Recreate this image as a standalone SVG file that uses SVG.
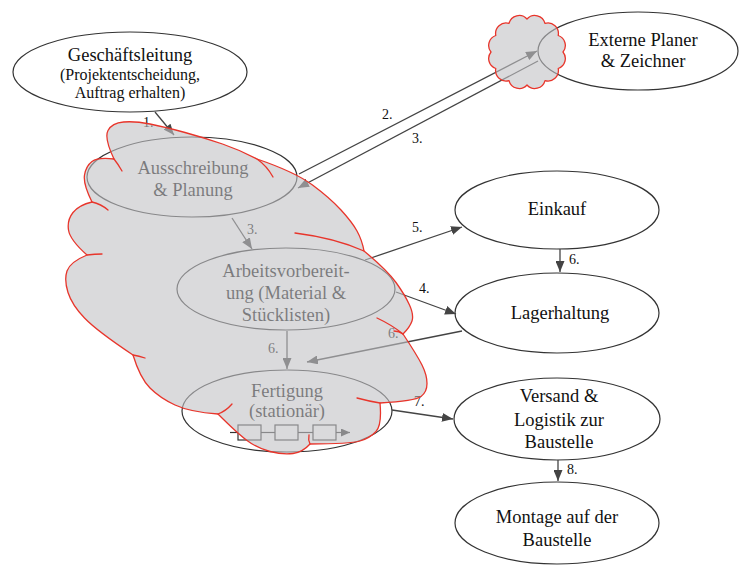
<svg xmlns="http://www.w3.org/2000/svg" width="739" height="566" viewBox="0 0 739 566" font-family="'Liberation Serif', 'DejaVu Serif', serif">
  <defs>
    <marker id="arrow" viewBox="0 0 11 9" refX="11" refY="4.5" markerWidth="11" markerHeight="9" markerUnits="userSpaceOnUse" orient="auto">
      <path d="M0,0 L11,4.5 L0,9 Z" fill="#444"/>
    </marker>
    <marker id="arrow-small" viewBox="0 0 9 8" refX="9" refY="4" markerWidth="9" markerHeight="8" markerUnits="userSpaceOnUse" orient="auto">
      <path d="M0,0 L9,4 L0,8 Z" fill="#333"/>
    </marker>
  </defs>
  <style>
    .node ellipse { fill: #ffffff; stroke: #333333; stroke-width: 1.2; }
    text { font-family: "Liberation Serif", "DejaVu Serif", serif; fill: #111111; text-anchor: middle; }
    .big { font-size: 18.5px; }
    .small { font-size: 16px; }
    .lbl { font-size: 14px; text-anchor: start; }
    .conn line { stroke: #444444; stroke-width: 1.3; marker-end: url(#arrow); }
    .proc rect { fill: none; stroke: #333333; stroke-width: 1.2; }
    .proc line { stroke: #333333; stroke-width: 1.2; }
    .cloud-fill { fill: #c1c2c4; fill-opacity: 0.6; stroke: #e8352b; stroke-width: 1.3; stroke-linejoin: round; }
    .cloud-tail { fill: none; stroke: #e8352b; stroke-width: 1.3; stroke-linecap: round; }
  </style>

  <rect width="739" height="566" fill="#ffffff"/>

  <!-- nodes -->
  <g id="geschaeftsleitung" class="node">
    <ellipse cx="130" cy="72" rx="117" ry="40"/>
    <text class="big" x="130" y="61">Geschäftsleitung</text>
    <text class="small" x="130" y="80">(Projektentscheidung,</text>
    <text class="small" x="130" y="98">Auftrag erhalten)</text>
  </g>
  <g id="externe-planer" class="node">
    <ellipse cx="638" cy="51" rx="100" ry="39"/>
    <text class="big" x="643" y="46">Externe Planer</text>
    <text class="big" x="643" y="67">&amp; Zeichner</text>
  </g>
  <g id="ausschreibung" class="node">
    <ellipse cx="192" cy="177" rx="105" ry="40"/>
    <text class="big" x="193" y="174">Ausschreibung</text>
    <text class="big" x="193" y="196">&amp; Planung</text>
  </g>
  <g id="arbeitsvorbereitung" class="node">
    <ellipse cx="286" cy="289" rx="109" ry="41"/>
    <text class="big" x="286" y="277">Arbeitsvorbereit-</text>
    <text class="big" x="286" y="299">ung (Material &amp;</text>
    <text class="big" x="286" y="321">Stücklisten)</text>
  </g>
  <g id="fertigung" class="node">
    <ellipse cx="287" cy="411" rx="105" ry="41"/>
    <text class="big" x="287" y="397">Fertigung</text>
    <text class="big" x="287" y="417">(stationär)</text>
    <g class="proc">
      <line x1="230" y1="432.5" x2="238" y2="432.5"/>
      <rect x="238" y="425" width="23" height="15"/>
      <line x1="261" y1="432.5" x2="275" y2="432.5"/>
      <rect x="275" y="425" width="23" height="15"/>
      <line x1="298" y1="432.5" x2="313" y2="432.5"/>
      <rect x="313" y="425" width="23" height="15"/>
      <line x1="336" y1="432.5" x2="350" y2="432.5" marker-end="url(#arrow-small)"/>
    </g>
  </g>
  <g id="einkauf" class="node">
    <ellipse cx="557" cy="210" rx="102" ry="39"/>
    <text class="big" x="557" y="215">Einkauf</text>
  </g>
  <g id="lagerhaltung" class="node">
    <ellipse cx="557" cy="313" rx="102" ry="40"/>
    <text class="big" x="560" y="319">Lagerhaltung</text>
  </g>
  <g id="versand" class="node">
    <ellipse cx="557" cy="419" rx="103" ry="41"/>
    <text class="big" x="559" y="402">Versand &amp;</text>
    <text class="big" x="559" y="426">Logistik zur</text>
    <text class="big" x="559" y="448">Baustelle</text>
  </g>
  <g id="montage" class="node">
    <ellipse cx="557" cy="523" rx="102" ry="41"/>
    <text class="big" x="557" y="523">Montage auf der</text>
    <text class="big" x="557" y="546">Baustelle</text>
  </g>

  <!-- connectors -->
  <g id="connectors" class="conn">
    <line x1="155" y1="112" x2="174" y2="135"/>
    <text class="lbl" x="143" y="127">1.</text>
    <line x1="299" y1="174" x2="537" y2="51"/>
    <text class="lbl" x="382" y="119">2.</text>
    <line x1="538" y1="61" x2="298" y2="188"/>
    <text class="lbl" x="412" y="143">3.</text>
    <line x1="232" y1="218" x2="252" y2="249"/>
    <text class="lbl" x="247" y="234">3.</text>
    <line x1="365" y1="260" x2="462" y2="227"/>
    <text class="lbl" x="412" y="232">5.</text>
    <line x1="396" y1="292" x2="456" y2="314"/>
    <text class="lbl" x="419" y="293">4.</text>
    <line x1="560" y1="249" x2="560" y2="272"/>
    <text class="lbl" x="569" y="264">6.</text>
    <line x1="462" y1="331" x2="307" y2="362"/>
    <text class="lbl" x="388" y="338">6.</text>
    <line x1="287" y1="331" x2="287" y2="369"/>
    <text class="lbl" x="268" y="353">6.</text>
    <line x1="392" y1="410" x2="453" y2="419"/>
    <text class="lbl" x="414" y="406">7.</text>
    <line x1="558" y1="460" x2="558" y2="481"/>
    <text class="lbl" x="567" y="474">8.</text>
  </g>

  <!-- shaded cloud over the in-house process chain -->
  <g id="cloud-main">
    <path class="cloud-fill" d="M114,159 Q104,138 108,130.5 Q112,123 123.5,122 Q135,121 150,124 Q165,127 185,132.5 Q205,138 222.5,144 Q240,150 257,159 Q295,172 312.5,185 Q330,198 341,210 Q352,222 357,231 Q362,240 364,251 Q387,270 396,282.5 Q405,295 409.5,305 Q414,315 412,321 Q410,327 403,334 Q417,355 422,365 Q427,375 427,383.5 Q427,392 421,396.5 Q415,401 380,403 Q382,425 376,431.5 Q370,438 360,441 Q350,444 310,444 Q303,452 293,453.5 Q283,455 270,451.5 Q257,448 247,440.5 Q237,433 218,414 Q190,412 175,405 Q160,398 150,388 Q140,378 133,355 Q97,331 84.5,318 Q72,305 68,292.5 Q64,280 67,271 Q70,262 87,255 Q70,240 68.5,230 Q67,220 73,212.5 Q79,205 92,202 Q83,184 84.5,175 Q86,166 92,161.5 Q98,157 114,159 Z"/>
    <path class="cloud-tail" d="M114,159 Q118,164 122,171"/>
    <path class="cloud-tail" d="M257,159 Q267,166 273,177"/>
    <path class="cloud-tail" d="M295,233 Q335,238 364,251"/>
    <path class="cloud-tail" d="M403,334 Q399,331 394,331"/>
    <path class="cloud-tail" d="M377,318 Q392,325 403,334"/>
    <path class="cloud-tail" d="M380,403 Q368,401 357,398"/>
    <path class="cloud-tail" d="M310,444 Q308,440 309,435"/>
    <path class="cloud-tail" d="M218,414 Q226,411 232,404"/>
    <path class="cloud-tail" d="M133,355 Q139,356 145,358"/>
    <path class="cloud-tail" d="M87,255 Q95,254 102,254"/>
    <path class="cloud-tail" d="M92,202 Q101,204 108,210"/>
  </g>

  <!-- small cloud at the external planners -->
  <g id="cloud-ext">
    <path class="cloud-fill" d="M563,52 A10.5,10.5 0 0 1 558.2,68.5 A10.5,10.5 0 0 1 545,80.6 A10.5,10.5 0 0 1 527,85 A10.5,10.5 0 0 1 509,80.6 A10.5,10.5 0 0 1 495.8,68.5 A10.5,10.5 0 0 1 491,52 A10.5,10.5 0 0 1 495.8,35.5 A10.5,10.5 0 0 1 509,23.4 A10.5,10.5 0 0 1 527,19 A10.5,10.5 0 0 1 545,23.4 A10.5,10.5 0 0 1 558.2,35.5 A10.5,10.5 0 0 1 563,52 Z"/>
  </g>
</svg>
